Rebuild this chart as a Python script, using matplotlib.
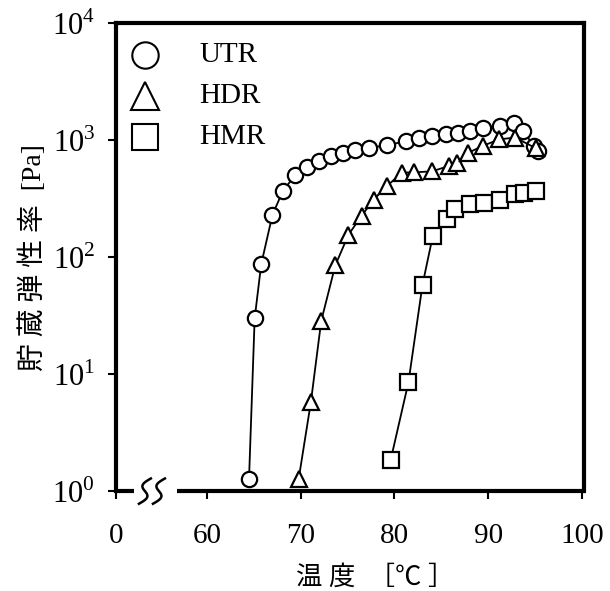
import numpy as np
import matplotlib.pyplot as plt

plt.rcParams['font.family'] = ['Liberation Serif', 'Noto Sans CJK JP', 'DejaVu Sans']
plt.rcParams['mathtext.fontset'] = 'custom'
plt.rcParams['mathtext.rm'] = 'Liberation Serif'

# data
utr_x = [64.5, 65.1, 65.8, 67.0, 68.1, 69.4, 70.7, 72.0, 73.2, 74.5, 75.8, 77.3, 79.2,
         81.2, 82.6, 84.0, 85.5, 86.8, 88.1, 89.4, 91.3, 92.8, 93.7, 94.9, 95.3]
utr_y = [1.28, 30, 87, 230, 366, 500, 590, 660, 730, 780, 820, 862, 900,
         980, 1050, 1085, 1135, 1160, 1200, 1280, 1320, 1410, 1200, 890, 800]
hdr_x = [69.8, 71.1, 72.2, 73.7, 75.1, 76.5, 77.8, 79.2, 80.8, 82.1, 84.0, 85.8,
         86.7, 87.9, 89.4, 91.2, 92.9, 95.1]
hdr_y = [1.28, 5.8, 28.5, 85, 155, 225, 310, 404, 527, 530, 540, 600,
         641, 779, 890, 1015, 1050, 850]
hmr_x = [79.6, 81.5, 83.0, 84.1, 85.6, 86.5, 88.1, 89.6, 91.3, 92.9, 93.8, 95.1]
hmr_y = [1.84, 8.5, 58, 152, 210, 260, 285, 292, 310, 345, 355, 370]

x0 = 50.3  # position standing for "0" on the broken axis
xticks = [x0, 60, 70, 80, 90, 100]
xticklabels = ['0', '60', '70', '80', '90', '100']
yticks = [1, 10, 100, 1000, 10000]
yticklabels = [r'$10^{0}$', r'$10^{1}$', r'$10^{2}$', r'$10^{3}$', r'$10^{4}$']

fig = plt.figure(figsize=(6.1, 5.91), dpi=100)
ax = fig.add_axes([0.190, 0.169, 0.767, 0.792])

mk = dict(color='black', lw=1.3, markerfacecolor='white', markeredgecolor='black',
          markeredgewidth=1.6, clip_on=False)
ax.plot(utr_x, utr_y, marker='o', markersize=11, **mk)
ax.plot(hdr_x, hdr_y, marker='^', markersize=11.5, **mk)
ax.plot(hmr_x, hmr_y, marker='s', markersize=11, **mk)

ax.set_yscale('log')
ax.set_xlim(x0, 100.2)
ax.set_ylim(1, 10000)
ax.set_xticks(xticks)
ax.set_xticklabels(xticklabels, fontsize=21)
ax.set_yticks(yticks)
ax.set_yticklabels(yticklabels, fontsize=22)
ax.minorticks_off()
ax.tick_params(direction='out', length=6, width=1.5)
ax.tick_params(axis='x', pad=17)
ax.tick_params(axis='y', pad=9)

for s in ['left', 'top', 'right']:
    ax.spines[s].set_linewidth(3)
ax.spines['bottom'].set_visible(False)

# broken bottom axis
ax.plot([0, 0.038], [0, 0], transform=ax.transAxes, color='black', lw=3,
        clip_on=False, solid_capstyle='butt')
ax.plot([0.130, 1.003], [0, 0], transform=ax.transAxes, color='black', lw=3,
        clip_on=False, solid_capstyle='butt')
t = np.linspace(0, 1, 60)
for cx in [0.062, 0.092]:
    sy = 0.027 - 0.054 * t
    sx = cx - 0.011 * np.sin(2 * np.pi * t) + 0.012 * (0.5 - t) + 0.25 * sy
    ax.plot(sx, sy, transform=ax.transAxes, color='black', lw=1.8, clip_on=False)

# legend
names = ['UTR', 'HDR', 'HMR']
markers = ['o', '^', 's']
for i, (nm, m) in enumerate(zip(names, markers)):
    yy = 0.932 - i * 0.088
    ax.plot([0.062], [yy], transform=ax.transAxes, marker=m,
            markersize=19 if m != '^' else 20,
            markerfacecolor='white', markeredgecolor='black', markeredgewidth=1.5,
            linestyle='none', clip_on=False)
    ax.text(0.179, yy, nm, transform=ax.transAxes, fontsize=21, va='center', ha='left')

fig.text(0.054, 0.565, '貯 蔵 弾 性 率  [Pa]', rotation=90, fontsize=20,
         ha='center', va='center')
fig.text(0.615, 1 - 577 / 591, '温 度  ［℃ ］', fontsize=19, ha='center', va='center')

fig.savefig('out.png', dpi=100)
